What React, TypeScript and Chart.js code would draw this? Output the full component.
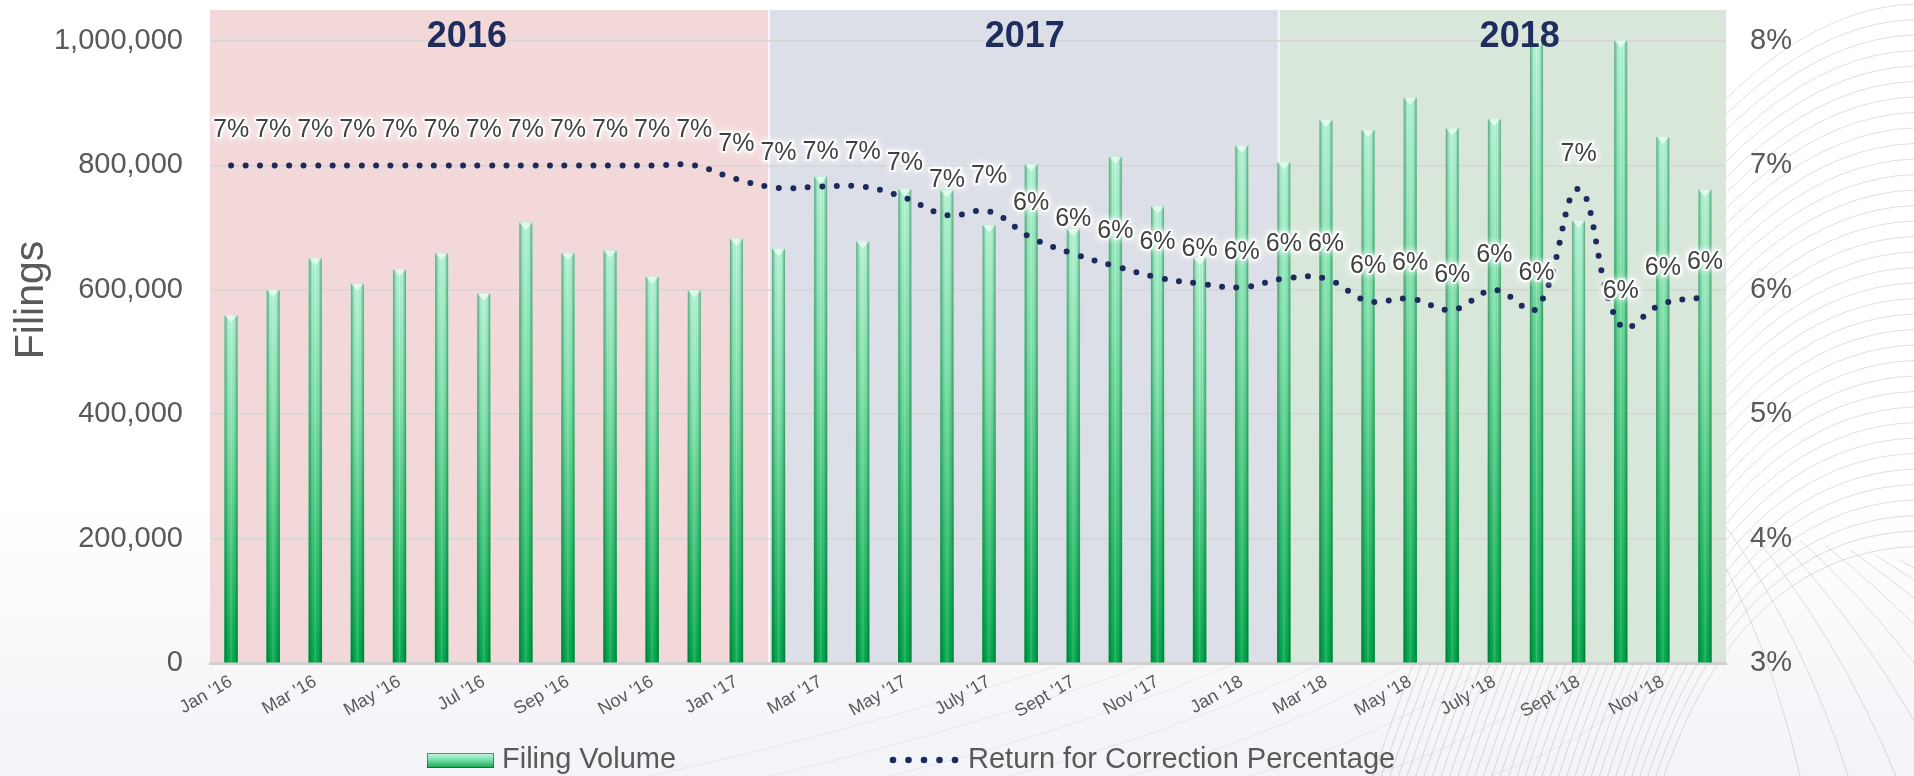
import React, { useEffect, useRef } from 'react';
import { Chart, registerables } from 'chart.js';

Chart.register(...registerables);

// ---------- data ----------
const months = [
  "Jan '16", "Feb '16", "Mar '16", "Apr '16", "May '16", "Jun '16", "Jul '16", "Aug '16", "Sep '16", "Oct '16", "Nov '16", "Dec '16",
  "Jan '17", "Feb '17", "Mar '17", "Apr '17", "May '17", "June '17", "July '17", "Aug '17", "Sept '17", "Oct '17", "Nov '17", "Dec '17",
  "Jan '18", "Feb '18", "Mar '18", "Apr '18", "May '18", "June '18", "July '18", "Aug '18", "Sept '18", "Oct '18", "Nov '18", "Dec '18",
];

const filingVolume = [
  559000, 600000, 651000, 610000, 633000, 659000, 594000, 708000, 659000, 663000, 621000, 599000,
  682000, 666000, 782000, 678000, 762000, 760000, 704000, 802000, 698000, 814000, 734000, 652000,
  832000, 805000, 873000, 857000, 909000, 860000, 875000, 998000, 711000, 1001000, 846000, 761000,
];

const rfcPct = [
  7.0, 7.0, 7.0, 7.0, 7.0, 7.0, 7.0, 7.0, 7.0, 7.0, 7.0, 7.0,
  6.89, 6.82, 6.83, 6.83, 6.74, 6.6, 6.63, 6.42, 6.29, 6.19, 6.1, 6.05,
  6.02, 6.09, 6.09, 5.91, 5.93, 5.84, 6.0, 5.85, 6.81, 5.71, 5.89, 5.94,
];

const volumeTicks = [0, 200000, 400000, 600000, 800000, 1000000];
const pctTicks = [3, 4, 5, 6, 7, 8];

const seriesNames = ['Filing Volume', 'Return for Correction Percentage'];
const axisTitle = 'Filings';

const yearLabels = ['2016', '2017', '2018'];
const yearBandStart = [-0.5, 12.776, 24.88];
const yearBandEnd = [12.776, 24.88, 35.5];
const yearLabelPos = [5.6, 18.85, 30.6];
const yearBandColors = ['#F3D8D9', '#DCDFE7', '#D8E7DA'];

const volumeMax = 1050000;
const pctMin = 3;
const pctMax = 8.25;

const FONT = "'Liberation Sans', Arial, Helvetica, sans-serif";
const TEXT_GRAY = '#595959';
const NAVY = '#1D2A5E';

// ---------- plugins ----------
const backgroundPlugin = {
  id: 'bgDecor',
  beforeDraw(chart: any) {
    const { ctx, width, height, chartArea: ca, scales } = chart;
    ctx.save();
    const bg = ctx.createLinearGradient(0, 0, 0, height);
    bg.addColorStop(0, '#FFFFFF');
    bg.addColorStop(0.65, '#FFFFFF');
    bg.addColorStop(1, '#F3F3F8');
    ctx.fillStyle = bg;
    ctx.fillRect(0, 0, width, height);

    // decorative background curves (right side)
    ctx.strokeStyle = 'rgba(150,150,150,0.3)';
    ctx.lineWidth = 1;
    for (let k = 0; k < 36; k++) {
      const ye = 4 + k * 15.5;
      ctx.beginPath();
      ctx.moveTo(1300 + k * 9, 1000);
      ctx.quadraticCurveTo(1600 + k * 2, ye + 10, width, ye);
      ctx.stroke();
    }
    for (let k = 0; k < 9; k++) {
      ctx.beginPath();
      ctx.moveTo(1700 + k * 25, 520 + k * 5);
      ctx.quadraticCurveTo(1770 + k * 35, 640, 1800 + k * 48, height);
      ctx.stroke();
    }
    ctx.strokeStyle = 'rgba(150,150,150,0.14)';
    for (let k = 0; k < 8; k++) {
      ctx.beginPath();
      ctx.moveTo(650 + k * 120, height);
      ctx.quadraticCurveTo(1000 + k * 100, 700, 1350 + k * 50, 560);
      ctx.stroke();
    }

    // year bands
    const x = scales.x;
    for (let i = 0; i < yearLabels.length; i++) {
      const x0 = x.getPixelForValue(yearBandStart[i]);
      const x1 = x.getPixelForValue(yearBandEnd[i]);
      ctx.fillStyle = yearBandColors[i];
      ctx.fillRect(x0, ca.top, x1 - x0, ca.bottom - ca.top);
    }
    ctx.fillStyle = 'rgba(255,255,255,0.75)';
    for (let i = 1; i < yearLabels.length; i++) {
      const x0 = x.getPixelForValue(yearBandStart[i]);
      ctx.fillRect(x0 - 1, ca.top, 2, ca.bottom - ca.top);
    }
    ctx.restore();
  },
};

const barShadePlugin = {
  id: 'barShade',
  afterDatasetDraw(chart: any, args: any) {
    if (args.index !== 0) return;
    const { ctx, chartArea: ca } = chart;
    ctx.save();
    ctx.beginPath();
    ctx.rect(ca.left, ca.top, ca.right - ca.left, ca.bottom - ca.top);
    ctx.clip();
    args.meta.data.forEach((bar: any) => {
      const { x, y, base, width } = bar.getProps(['x', 'y', 'base', 'width'], true);
      const l = x - width / 2;
      const g = ctx.createLinearGradient(l, 0, l + width, 0);
      g.addColorStop(0, 'rgba(0,70,30,0.45)');
      g.addColorStop(0.3, 'rgba(0,70,30,0)');
      g.addColorStop(0.5, 'rgba(255,255,255,0.2)');
      g.addColorStop(0.72, 'rgba(0,70,30,0)');
      g.addColorStop(1, 'rgba(0,70,30,0.45)');
      ctx.fillStyle = g;
      ctx.fillRect(l, y, width, base - y);
      ctx.fillStyle = 'rgba(255,255,255,0.6)';
      ctx.beginPath();
      ctx.moveTo(l, y);
      ctx.lineTo(l + width, y);
      ctx.lineTo(x, y + width * 0.55);
      ctx.closePath();
      ctx.fill();
    });
    ctx.restore();
  },
};

const labelsPlugin = {
  id: 'overlayLabels',
  afterDatasetsDraw(chart: any) {
    const { ctx, chartArea: ca, scales } = chart;
    ctx.save();
    // year labels
    ctx.font = `bold 36px ${FONT}`;
    ctx.fillStyle = '#1F2D5E';
    ctx.textAlign = 'center';
    ctx.textBaseline = 'middle';
    yearLabels.forEach((t, i) => {
      ctx.fillText(t, scales.x.getPixelForValue(yearLabelPos[i]), ca.top + 27);
    });

    // data labels of the line
    const meta = chart.getDatasetMeta(1);
    ctx.font = `25px ${FONT}`;
    meta.data.forEach((pt: any, i: number) => {
      const t = `${Math.round(rfcPct[i])}%`;
      const px = pt.x;
      const py = pt.y - 35;
      ctx.save();
      ctx.shadowColor = 'rgba(255,255,255,1)';
      ctx.shadowBlur = 7;
      ctx.lineJoin = 'round';
      ctx.lineWidth = 4;
      ctx.strokeStyle = 'rgba(255,255,255,0.95)';
      ctx.strokeText(t, px, py);
      ctx.restore();
      ctx.fillStyle = '#404040';
      ctx.fillText(t, px, py);
    });
    ctx.restore();
  },
  afterDraw(chart: any) {
    const { ctx } = chart;
    ctx.save();
    // axis title
    ctx.translate(32, 300);
    ctx.rotate(-Math.PI / 2);
    ctx.font = `41px ${FONT}`;
    ctx.fillStyle = TEXT_GRAY;
    ctx.textAlign = 'center';
    ctx.textBaseline = 'middle';
    ctx.fillText(axisTitle, 0, 0);
    ctx.restore();

    // legend
    ctx.save();
    const ly = 760;
    const g = ctx.createLinearGradient(0, ly - 8, 0, ly + 8);
    g.addColorStop(0, '#CFFCEA');
    g.addColorStop(0.45, '#7FE3B0');
    g.addColorStop(1, '#15A552');
    ctx.fillStyle = g;
    ctx.fillRect(427, ly - 7, 67, 15);
    ctx.strokeStyle = 'rgba(0,90,40,0.6)';
    ctx.lineWidth = 1;
    ctx.strokeRect(427.5, ly - 6.5, 66, 14);
    ctx.font = `29px ${FONT}`;
    ctx.fillStyle = TEXT_GRAY;
    ctx.textAlign = 'left';
    ctx.textBaseline = 'middle';
    ctx.fillText(seriesNames[0], 502, ly);

    ctx.fillStyle = NAVY;
    for (let k = 0; k < 5; k++) {
      ctx.beginPath();
      ctx.arc(893 + k * 15.5, ly, 3.3, 0, Math.PI * 2);
      ctx.fill();
    }
    ctx.fillStyle = TEXT_GRAY;
    ctx.fillText(seriesNames[1], 968, ly);
    ctx.restore();
  },
};

// ---------- component ----------
export default function App() {
  const canvasRef = useRef<HTMLCanvasElement | null>(null);

  useEffect(() => {
    const canvas = canvasRef.current;
    if (!canvas) return;

    const barFill = (c: any) => {
      const chart = c.chart;
      const y = chart.scales && chart.scales.y;
      if (!y || c.type !== 'data') return '#3CC77E';
      const top = y.getPixelForValue(c.raw);
      const base = y.getPixelForValue(0);
      if (!isFinite(top) || !isFinite(base) || base - top < 1) return '#3CC77E';
      const g = chart.ctx.createLinearGradient(0, top, 0, base);
      g.addColorStop(0, '#B4F6D6');
      g.addColorStop(0.35, '#7EE3AC');
      g.addColorStop(0.75, '#2EC06E');
      g.addColorStop(1, '#00A84C');
      return g;
    };

    const chart = new Chart(canvas, {
      type: 'bar',
      data: {
        labels: months,
        datasets: [
          {
            type: 'bar',
            label: seriesNames[0],
            data: filingVolume,
            yAxisID: 'y',
            backgroundColor: barFill,
            borderWidth: 0,
            barThickness: 13,
            order: 2,
          } as any,
          {
            type: 'line',
            label: seriesNames[1],
            data: rfcPct,
            yAxisID: 'y1',
            borderColor: NAVY,
            borderWidth: 6,
            borderDash: [0, 14.5],
            borderCapStyle: 'round',
            pointRadius: 0,
            pointHoverRadius: 0,
            tension: 0.4,
            fill: false,
            order: 1,
          } as any,
        ],
      },
      options: {
        responsive: false,
        animation: false,
        devicePixelRatio: 1,
        layout: { padding: { left: 0, right: 0, top: 10, bottom: 38 } },
        plugins: {
          legend: { display: false },
          tooltip: { enabled: false },
        },
        scales: {
          x: {
            type: 'category',
            offset: true,
            grid: { display: false, drawTicks: false },
            border: { display: true, color: '#D0D0D0', width: 3 },
            ticks: {
              autoSkip: false,
              minRotation: 30,
              maxRotation: 30,
              padding: 8,
              color: TEXT_GRAY,
              font: { family: FONT, size: 18 },
              callback: function (this: any, _v: any, index: number) {
                return index % 2 === 0 ? months[index] : '';
              },
            },
            afterFit: (scale: any) => {
              scale.height = 75;
              scale.paddingLeft = 0;
              scale.paddingRight = 0;
            },
          },
          y: {
            type: 'linear',
            position: 'left',
            min: 0,
            max: volumeMax,
            grid: { color: '#D6D6D6', lineWidth: 1.5, drawTicks: false },
            border: { display: false },
            afterBuildTicks: (scale: any) => {
              scale.ticks = volumeTicks.map((v) => ({ value: v }));
            },
            ticks: {
              padding: 27,
              color: TEXT_GRAY,
              font: { family: FONT, size: 29 },
              callback: (v: any) => Number(v).toLocaleString('en-US'),
            },
            afterFit: (scale: any) => {
              scale.width = 210;
              scale.paddingTop = 0;
              scale.paddingBottom = 0;
            },
          },
          y1: {
            type: 'linear',
            position: 'right',
            min: pctMin,
            max: pctMax,
            grid: { display: false, drawTicks: false },
            border: { display: false },
            afterBuildTicks: (scale: any) => {
              scale.ticks = pctTicks.map((v) => ({ value: v }));
            },
            ticks: {
              padding: 24,
              color: TEXT_GRAY,
              font: { family: FONT, size: 29 },
              callback: (v: any) => `${Math.round(Number(v))}%`,
            },
            afterFit: (scale: any) => {
              scale.width = 188;
              scale.paddingTop = 0;
              scale.paddingBottom = 0;
            },
          },
        },
      } as any,
      plugins: [backgroundPlugin, barShadePlugin, labelsPlugin],
    });

    return () => chart.destroy();
  }, []);

  return (
    <div style={{ position: 'fixed', left: 0, top: 0, width: 1914, height: 776, overflow: 'hidden', background: '#fff' }}>
      <canvas ref={canvasRef} width={1914} height={776} style={{ display: 'block', width: 1914, height: 776 }} />
    </div>
  );
}
